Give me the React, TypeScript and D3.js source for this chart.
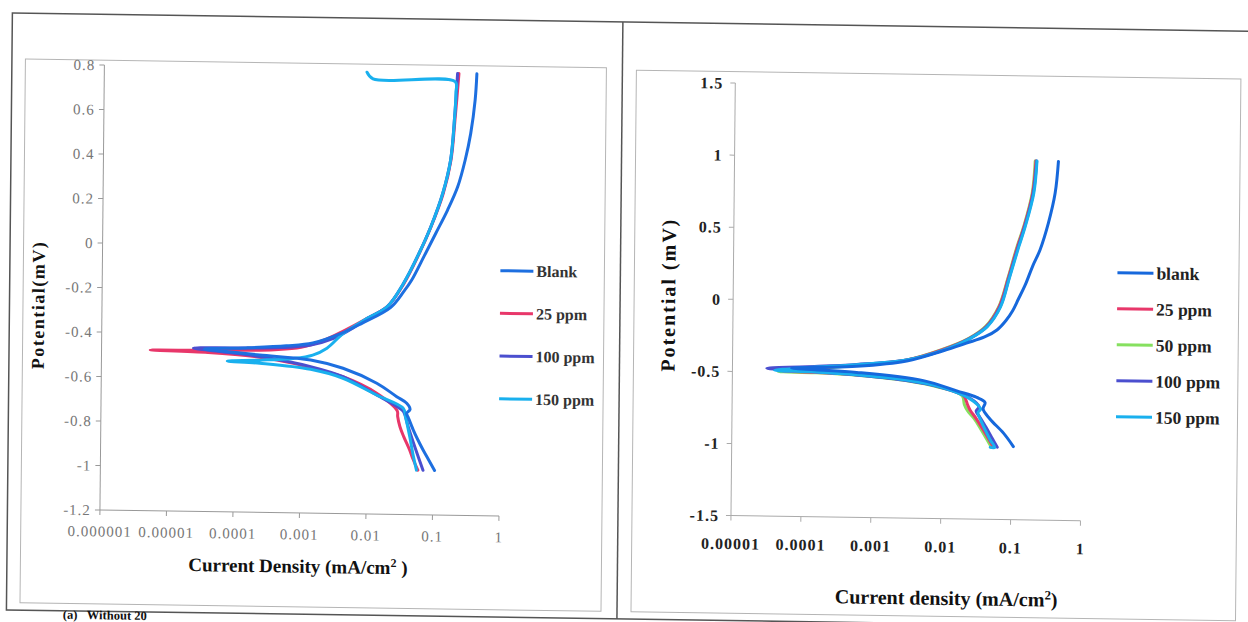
import * as d3 from 'd3';

type Pt = [number, number]; // [current density mA/cm2, potential V]

// ---- left panel (a) ----
const leftNames = ['Blank', '25 ppm', '100 ppm', '150 ppm'];
const leftColors = ['#1d6fe0', '#e8376a', '#4b4fcf', '#19b0ee'];

const leftBlank: Pt[] = [
  [0.106, -1.0], [0.085, -0.95], [0.0708, -0.909], [0.058, -0.86], [0.0499, -0.819],
  [0.042, -0.765], [0.0395, -0.745], [0.0444, -0.728], [0.0395, -0.7], [0.0279, -0.671],
  [0.0139, -0.612], [0.0043, -0.547], [0.0014, -0.512], [0.00024, -0.493], [0.00008, -0.48],
  [0.000035, -0.47], [0.00015, -0.462], [0.0006, -0.45], [0.0015, -0.435], [0.004, -0.39],
  [0.008, -0.345], [0.022, -0.27], [0.034, -0.2], [0.045, -0.146], [0.068, -0.04],
  [0.102, 0.066], [0.152, 0.171], [0.214, 0.276], [0.275, 0.397], [0.33, 0.517],
  [0.38, 0.667], [0.4, 0.785],
];
const left25: Pt[] = [
  [0.0594, -1.0], [0.05, -0.95], [0.0444, -0.91], [0.036, -0.85], [0.0315, -0.806],
  [0.029, -0.76], [0.0285, -0.735], [0.0139, -0.657], [0.0043, -0.585], [0.0015, -0.55],
  [0.00077, -0.528], [0.0002, -0.5], [0.00004, -0.485], [0.0000054, -0.478], [0.00003, -0.476],
  [0.0001, -0.474], [0.0004, -0.468], [0.001, -0.455], [0.0023, -0.42], [0.0043, -0.38],
  [0.0098, -0.321], [0.0195, -0.267], [0.034, -0.165], [0.0575, -0.028], [0.086, 0.094],
  [0.13, 0.245], [0.168, 0.395], [0.192, 0.59], [0.215, 0.785],
];
const left100: Pt[] = [
  [0.071, -1.0], [0.053, -0.895], [0.042, -0.806], [0.0355, -0.738], [0.0313, -0.724],
  [0.0139, -0.665], [0.0043, -0.585], [0.0014, -0.542], [0.00024, -0.5], [0.00006, -0.48],
  [0.000024, -0.466], [0.0001, -0.463], [0.0005, -0.458], [0.0014, -0.445], [0.003, -0.415],
  [0.006, -0.365], [0.0098, -0.321], [0.0195, -0.267], [0.034, -0.161], [0.0575, -0.025],
  [0.086, 0.096], [0.128, 0.246], [0.166, 0.396], [0.188, 0.591], [0.205, 0.785],
];
const left150: Pt[] = [
  [0.0566, -1.0], [0.05, -0.93], [0.0444, -0.85], [0.038, -0.76], [0.0352, -0.723],
  [0.0139, -0.665], [0.0043, -0.592], [0.0014, -0.554], [0.00024, -0.53], [0.000078, -0.522],
  [0.00024, -0.516], [0.00077, -0.506], [0.0015, -0.49], [0.00245, -0.458], [0.0043, -0.39],
  [0.0098, -0.321], [0.0195, -0.267], [0.034, -0.161], [0.0575, -0.025], [0.086, 0.096],
  [0.128, 0.246], [0.166, 0.396], [0.188, 0.59], [0.195, 0.7], [0.19, 0.748],
  [0.011, 0.755], [0.0089, 0.785],
];
const leftData = [leftBlank, left25, left100, left150];
const leftDrawOrder = [1, 2, 3, 0];

const leftXTicks = [1e-6, 1e-5, 1e-4, 1e-3, 0.01, 0.1, 1];
const leftXLabels = ['0.000001', '0.00001', '0.0001', '0.001', '0.01', '0.1', '1'];
const leftYTicks = [0.8, 0.6, 0.4, 0.2, 0, -0.2, -0.4, -0.6, -0.8, -1, -1.2];

// ---- right panel ----
const rightNames = ['blank', '25 ppm', '50 ppm', '100 ppm', '150 ppm'];
const rightColors = ['#1668dc', '#e8376a', '#86e05f', '#4b4fcf', '#19b0ee'];

const rightBlank: Pt[] = [
  [0.107, -0.992], [0.077, -0.9], [0.049, -0.803], [0.039, -0.735], [0.0415, -0.689],
  [0.0316, -0.655], [0.0163, -0.612], [0.0054, -0.544], [0.0006, -0.494], [0.00015, -0.48],
  [0.00007, -0.47], [0.0002, -0.462], [0.0006, -0.452], [0.0031, -0.41], [0.0103, -0.335],
  [0.022, -0.28], [0.04, -0.235], [0.06, -0.185], [0.08, -0.12], [0.1, -0.05],
  [0.12, 0.03], [0.15, 0.13], [0.19, 0.26], [0.242, 0.376], [0.315, 0.561],
  [0.39, 0.77], [0.43, 0.99],
];
const right25: Pt[] = [
  [0.055, -0.995], [0.047, -0.94], [0.0396, -0.88], [0.031, -0.8], [0.0255, -0.745],
  [0.0235, -0.71], [0.0202, -0.641], [0.0094, -0.585], [0.0031, -0.542], [0.0006, -0.51],
  [0.00015, -0.497], [0.00005, -0.49], [0.00013, -0.47], [0.0006, -0.443], [0.003, -0.405],
  [0.0098, -0.33], [0.024, -0.248], [0.042, -0.163], [0.064, -0.025], [0.086, 0.178],
  [0.115, 0.395], [0.142, 0.535], [0.186, 0.767], [0.205, 0.99],
];
const right50: Pt[] = [
  [0.052, -1.0], [0.044, -0.94], [0.037, -0.88], [0.029, -0.8], [0.0235, -0.75],
  [0.021, -0.705], [0.0195, -0.645], [0.009, -0.588], [0.003, -0.545], [0.0006, -0.513],
  [0.00015, -0.5], [0.000045, -0.495], [0.00013, -0.475], [0.0006, -0.445], [0.003, -0.405],
  [0.0095, -0.33], [0.0235, -0.248], [0.041, -0.163], [0.063, -0.025], [0.085, 0.178],
  [0.113, 0.395], [0.14, 0.535], [0.183, 0.767], [0.2, 0.99],
];
const right100: Pt[] = [
  [0.063, -0.998], [0.052, -0.93], [0.043, -0.86], [0.035, -0.79], [0.031, -0.75],
  [0.034, -0.72], [0.025, -0.66], [0.0095, -0.588], [0.0031, -0.545], [0.0006, -0.512],
  [0.00012, -0.49], [0.000031, -0.474], [0.000116, -0.46], [0.0006, -0.439], [0.0031, -0.402],
  [0.0103, -0.33], [0.0248, -0.246], [0.043, -0.163], [0.066, -0.025], [0.088, 0.178],
  [0.118, 0.395], [0.145, 0.535], [0.19, 0.767], [0.21, 0.99],
];
const right150: Pt[] = [
  [0.05, -1.0], [0.058, -1.0], [0.05, -0.95], [0.042, -0.88], [0.036, -0.81],
  [0.033, -0.76], [0.036, -0.735], [0.028, -0.68], [0.0205, -0.642], [0.0094, -0.585],
  [0.0031, -0.542], [0.0006, -0.51], [0.00015, -0.495], [0.00004, -0.488], [0.00012, -0.465],
  [0.0006, -0.44], [0.0031, -0.403], [0.0103, -0.331], [0.025, -0.246], [0.0435, -0.163],
  [0.067, -0.025], [0.089, 0.178], [0.12, 0.395], [0.147, 0.535], [0.193, 0.767], [0.212, 0.99],
];
const rightData = [rightBlank, right25, right50, right100, right150];
const rightDrawOrder = [2, 1, 3, 4, 0];

const rightXTicks = [1e-5, 1e-4, 1e-3, 0.01, 0.1, 1];
const rightXLabels = ['0.00001', '0.0001', '0.001', '0.01', '0.1', '1'];
const rightYTicks = [1.5, 1, 0.5, 0, -0.5, -1, -1.5];

export default function App() {
  // scales (drawn in a slightly skewed frame, like the scanned page)
  const xL = d3.scaleLog().domain([1e-6, 1]).range([102, 501]);
  const yL = d3.scaleLinear().domain([-1.2, 0.8]).range([517.7, 72.7]);
  const xR = d3.scaleLog().domain([1e-5, 1]).range([733, 1082.5]);
  const yR = d3.scaleLinear().domain([-1.5, 1.5]).range([514, 81.5]);

  const lineL = d3.line<Pt>().x((d) => xL(d[0])).y((d) => yL(d[1])).curve(d3.curveCatmullRom.alpha(0.5));
  const lineR = d3.line<Pt>().x((d) => xR(d[0])).y((d) => yR(d[1])).curve(d3.curveCatmullRom.alpha(0.5));

  const serif = "'Liberation Serif', 'Times New Roman', serif";

  return (
    <svg
      width={1248}
      height={622}
      style={{ position: 'absolute', left: 0, top: 0, background: '#fff' }}
      fontFamily={serif}
    >
      <g transform="matrix(1,0.0148,-0.01,1,3.11,-9.235)">
        {/* page frames */}
        <rect x={9.5} y={22} width={1260} height={597} fill="none" stroke="#555" strokeWidth={1.5} />
        <line x1={620} y1={22} x2={620} y2={619} stroke="#555" strokeWidth={1.5} />
        <rect x={23} y={68} width={581} height={543.6} fill="none" stroke="#b5b5b5" strokeWidth={1} />
        <rect x={634} y={70} width={604.5} height={541.6} fill="none" stroke="#b5b5b5" strokeWidth={1} />

        {/* ---- left chart ---- */}
        <line x1={102} y1={72.7} x2={102} y2={517.7} stroke="#999" />
        <line x1={102} y1={517.7} x2={501} y2={517.7} stroke="#999" />
        {leftYTicks.map((t) => (
          <g key={'ly' + t}>
            <line x1={97} x2={102} y1={yL(t)} y2={yL(t)} stroke="#999" />
            <text x={93} y={yL(t)} dy="0.35em" textAnchor="end" fontSize={15} letterSpacing={1} fill="#777">
              {String(t)}
            </text>
          </g>
        ))}
        {leftXTicks.map((t, i) => (
          <g key={'lx' + t}>
            <line x1={xL(t)} x2={xL(t)} y1={517.7} y2={522.7} stroke="#999" />
            <text x={xL(t)} y={539} dy="0.35em" textAnchor="middle" fontSize={15} letterSpacing={1} fill="#777">
              {leftXLabels[i]}
            </text>
          </g>
        ))}
        {leftDrawOrder.map((k) => (
          <path key={'lp' + k} d={lineL(leftData[k]) || ''} fill="none" stroke={leftColors[k]} strokeWidth={3} strokeLinejoin="round" strokeLinecap="round" />
        ))}
        {leftNames.map((n, i) => (
          <g key={'ll' + n} transform={`translate(0,${272.5 + i * 42.7})`}>
            <line x1={500} x2={533} y1={0} y2={0} stroke={leftColors[i]} strokeWidth={3} />
            <text x={536} y={0} dy="0.35em" fontSize={16} fontWeight="bold" fill="#333">{n}</text>
          </g>
        ))}
        <text x={300.5} y={570.8} dy="0.35em" textAnchor="middle" fontSize={19} fontWeight="bold" fill="#111">
          Current Density (mA/cm<tspan dy={-7} fontSize={12}>2</tspan><tspan dy={7}> )</tspan>
        </text>
        <text transform="translate(38,313.6) rotate(-90)" textAnchor="middle" dy="0.35em" fontSize={18} letterSpacing={1.5} fontWeight="bold" fill="#111">
          Potential(mV)
        </text>

        {/* ---- right chart ---- */}
        <line x1={733} y1={81.5} x2={733} y2={514} stroke="#aaa" />
        <line x1={733} y1={514} x2={1082.5} y2={514} stroke="#aaa" />
        {rightYTicks.map((t) => (
          <g key={'ry' + t}>
            <line x1={728} x2={733} y1={yR(t)} y2={yR(t)} stroke="#aaa" />
            <text x={721} y={yR(t)} dy="0.35em" textAnchor="end" fontSize={16} letterSpacing={1} fontWeight="bold" fill="#222">
              {String(t)}
            </text>
          </g>
        ))}
        {rightXTicks.map((t, i) => (
          <g key={'rx' + t}>
            <line x1={xR(t)} x2={xR(t)} y1={514} y2={519} stroke="#aaa" />
            <text x={xR(t)} y={542} dy="0.35em" textAnchor="middle" fontSize={16} letterSpacing={1} fontWeight="bold" fill="#222">
              {rightXLabels[i]}
            </text>
          </g>
        ))}
        {rightDrawOrder.map((k) => (
          <path key={'rp' + k} d={lineR(rightData[k]) || ''} fill="none" stroke={rightColors[k]} strokeWidth={3} strokeLinejoin="round" strokeLinecap="round" />
        ))}
        {rightNames.map((n, i) => (
          <g key={'rl' + n} transform={`translate(0,${265.5 + i * 36})`}>
            <line x1={1117} x2={1153} y1={0} y2={0} stroke={rightColors[i]} strokeWidth={3} />
            <text x={1156} y={0} dy="0.35em" fontSize={17.5} fontWeight="bold" fill="#222">{n}</text>
          </g>
        ))}
        <text x={949} y={593.2} dy="0.35em" textAnchor="middle" fontSize={20} fontWeight="bold" fill="#111">
          Current density (mA/cm<tspan dy={-7} fontSize={13}>2</tspan><tspan dy={7}>)</tspan>
        </text>
        <text transform="translate(668,294) rotate(-90)" textAnchor="middle" dy="0.35em" fontSize={20} letterSpacing={2} fontWeight="bold" fill="#111">
          Potential (mV)
        </text>

        {/* caption below the left panel */}
        <text x={66} y={627} fontSize={12.5} fontWeight="bold" fill="#111">(a)</text>
        <text x={90} y={627} fontSize={12.5} fontWeight="bold" fill="#111">Without 20</text>
      </g>
    </svg>
  );
}
